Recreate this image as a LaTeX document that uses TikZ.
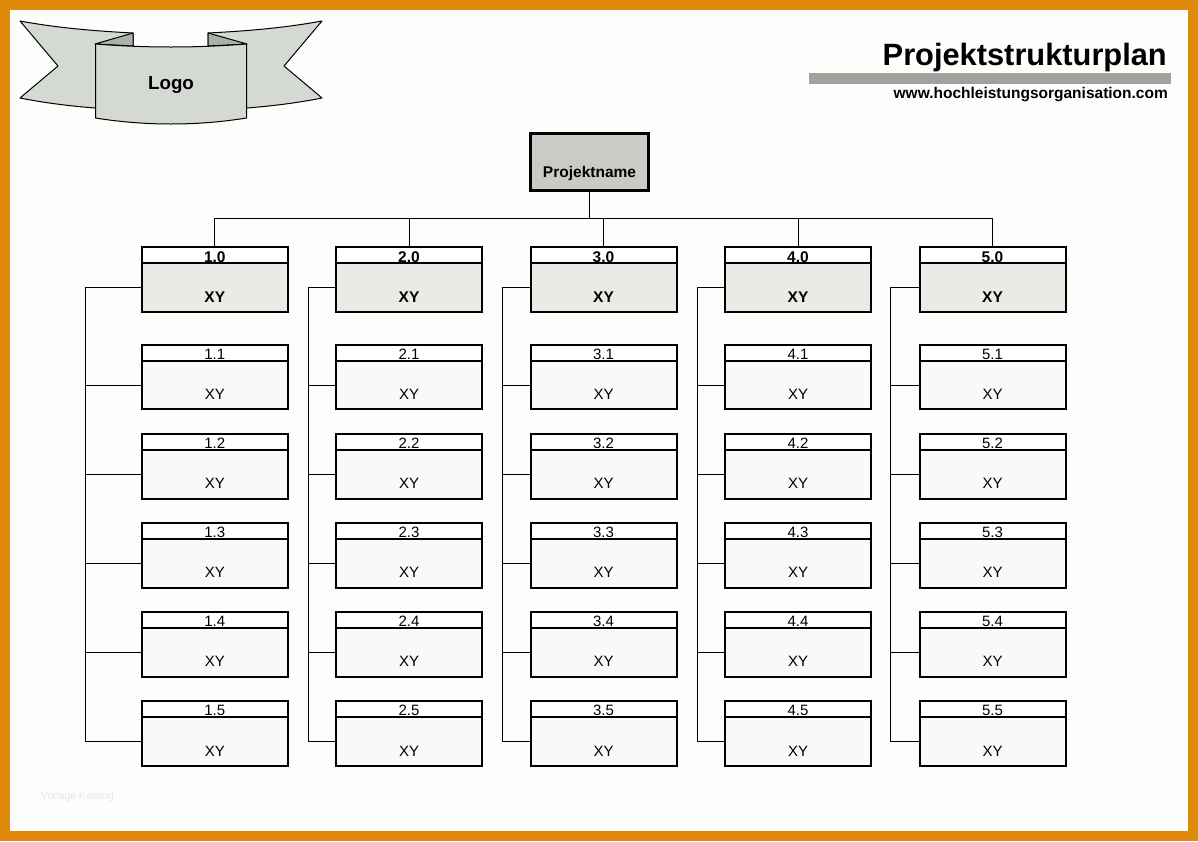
\documentclass[tikz,border=0pt]{standalone}
\usepackage{fontspec}
\setmainfont{Liberation Sans}
\definecolor{frameor}{HTML}{DF8A0B}
\definecolor{pagebg}{HTML}{FDFEFC}
\definecolor{ribbon}{HTML}{D5D9D4}
\definecolor{ribfold}{HTML}{ACB0AA}
\definecolor{barcol}{HTML}{9FA39E}
\definecolor{projfill}{HTML}{C8CBC6}
\definecolor{headfill}{HTML}{E8EBE6}
\definecolor{subfill}{HTML}{F7FAF6}
\definecolor{wmark}{HTML}{E6E8E4}
\newcommand{\fs}[1]{\fontsize{#1}{#1}\selectfont}
\newcommand{\lowered}[2]{\raisebox{-#1pt}[0pt][0pt]{#2}}
\tikzset{
  boxbase/.style={draw=black,line width=2pt,inner sep=0pt,outer sep=0pt,minimum width=146pt,anchor=north west,text=black},
  numhead/.style={boxbase,fill=white,minimum height=16pt,font=\fs{15}},
  subbody/.style={boxbase,fill=subfill,font=\fs{15}},
  mainbody/.style={boxbase,fill=headfill,minimum height=49pt,font=\fs{15.5}\bfseries},
  projbox/.style={draw=black,line width=3pt,fill=projfill,inner sep=0pt,outer sep=0pt,minimum width=118pt,minimum height=57pt,anchor=north west,font=\fs{15.5}\bfseries},
  conn/.style={draw=black,line width=1pt},
  rib/.style={draw=black,line width=1pt,fill=ribbon,line join=round},
  fold/.style={draw=black,line width=1pt,fill=ribfold,line join=round},
}
\begin{document}
\begin{tikzpicture}[x=1pt,y=-1pt]
\useasboundingbox (0,0) rectangle (1198,841);
\fill[frameor] (0,0) rectangle (1198,841);
\fill[pagebg] (10,10) rectangle (1188,831);

% ribbon
\path[rib] (20,21) .. controls (58,28) and (95,31) .. (133,33) -- (133,60) -- (95,108) .. controls (70,106) and (45,103) .. (20,98) -- (58,66) -- cycle;
\path[rib] (322,21) .. controls (284,28) and (247,31) .. (208,33) -- (208,60) -- (247,108) .. controls (272,106) and (297,103) .. (322,98) -- (284,66) -- cycle;
\path[fold] (133,33) -- (95,44) -- (133,46) -- cycle;
\path[fold] (208,33) -- (247,44) -- (208,46) -- cycle;
\path[rib] (95.5,44) .. controls (145,48) and (197,48) .. (246.5,44) -- (246.5,118) .. controls (197,126) and (145,126) .. (95.5,118) -- cycle;
\node[anchor=base,font=\fs{18.8}\bfseries,text=black,inner sep=0pt] (logotext) at (171,89) {Logo};

% title
\node[anchor=base east,font=\fs{30.8}\bfseries,inner sep=0pt] (title) at (1167,65) {Projektstrukturplan};
\fill[barcol] (809,73) rectangle (1171,84);
\node[anchor=base east,font=\fs{15.5}\bfseries,inner sep=0pt] (url) at (1168,98) {www.hochleistungsorganisation.com};

% project node
\node[projbox] (proj) at (530.5,133.5) {\lowered{15}{Projektname}};
\coordinate (busl) at (214.5,218);
\coordinate (busr) at (992.5,218);
\draw[conn] (busl) -- (busr);
\draw[conn] (proj.south) -- (proj.south |- busl);

% columns
\foreach \c/\xx/\sx in {1/141.8/85.5,2/336/308.5,3/530.5/502.5,4/725/697.5,5/919.5/890.5}{
  \node[numhead,font=\fs{15.5}\bfseries] (h\c-0) at (\xx,247) {\lowered{7.5}{\c.0}};
  \node[mainbody] (b\c-0) at (\xx,263) {\lowered{15}{XY}};
  \draw[conn] (h\c-0.north) -- (h\c-0.north |- busl);
  \coordinate (s\c) at (\sx,0);
  \draw[conn] (b\c-0.west) -- (s\c |- b\c-0.west);
  \foreach \r/\ty/\by/\bh/\lw in {1/345/361/48/14,2/434/450/49/14,3/523/539/49/14,4/612/628/49/14,5/701/717/49/15}{
    \node[numhead] (h\c-\r) at (\xx,\ty) {\lowered{6.5}{\c.\r}};
    \node[subbody,minimum height=\bh pt] (b\c-\r) at (\xx,\by) {\lowered{\lw}{XY}};
    \draw[conn] (b\c-\r.west) -- (s\c |- b\c-\r.west);
  }
  \draw[conn,line cap=rect] (s\c |- b\c-0.west) -- (s\c |- b\c-5.west);
}

\node[anchor=base west,font=\fs{10.3},text=wmark,inner sep=0pt] (wm) at (41,799) {Vorlage Katalog};
\end{tikzpicture}
\end{document}
